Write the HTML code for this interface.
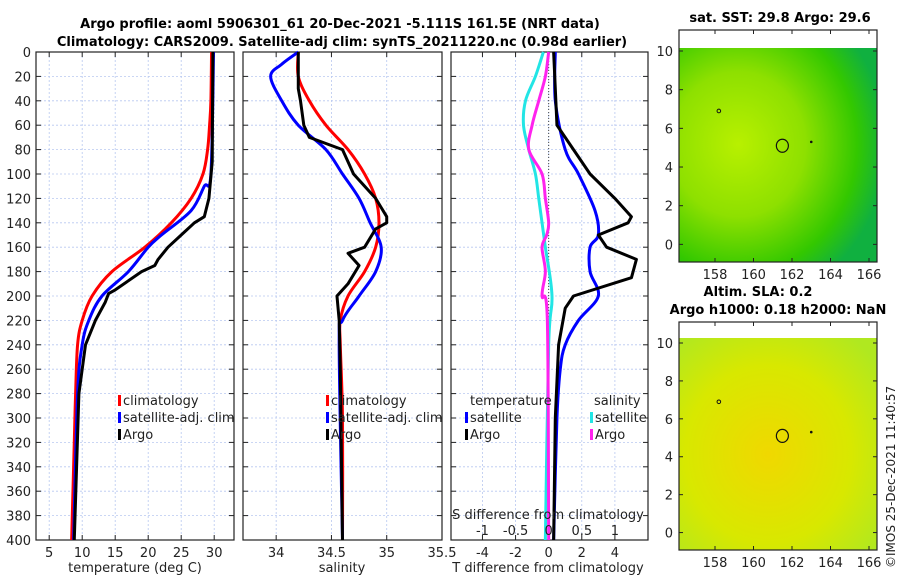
<!DOCTYPE html>
<html><head><meta charset="utf-8"><style>
body{margin:0;background:#fff;font-family:"Liberation Sans","DejaVu Sans",sans-serif}
svg text{font-family:"DejaVu Sans","Liberation Sans",sans-serif}
</style></head><body>
<svg id="c" width="900" height="580" viewBox="0 0 900 580">
<defs>
<radialGradient id="sst" cx="0.3" cy="0.45" r="0.75">
<stop offset="0" stop-color="#b8f000"/><stop offset="0.45" stop-color="#8ee000"/><stop offset="0.8" stop-color="#33c800"/><stop offset="1" stop-color="#10b040"/></radialGradient>
<radialGradient id="sla" cx="0.45" cy="0.55" r="0.7">
<stop offset="0" stop-color="#f0d800"/><stop offset="0.6" stop-color="#d8e800"/><stop offset="1" stop-color="#b0e820"/></radialGradient>
</defs>
</svg>
<script>
const depths=[0,20,40,60,80,100,120,140,160,180,200,220,240,260,280,300,320,340,360,380,400];
const tempClimD=[0,40,60,80,100,120,140,160,180,200,220,240,280,320,400];
const tempClimV=[29.6,29.5,29.3,29,28.3,26.5,23.5,19.5,14.5,11.5,10,9.3,9,8.8,8.4];
const tempSatD=[0,100,110,130,150,160,180,200,220,240,280,400];
const tempSatV=[29.9,29.5,28.5,26.5,22,20,17,13,11,10,9.3,8.7];
const tempArgoD=[0,90,120,135,140,150,160,170,175,180,195,198,205,220,240,280,400];
const tempArgoV=[29.8,29.7,29.2,28.5,27,25,23,21.5,21,19,15,14,13.5,12,10.5,9.5,8.8];
const salClimD=[0,20,40,60,80,100,120,140,160,180,200,220,240,300,400];
const salClimV=[34.2,34.2,34.3,34.45,34.65,34.8,34.9,34.93,34.9,34.8,34.65,34.58,34.58,34.6,34.6];
const salSatD=[0,10,20,40,60,80,100,120,140,160,180,200,220,240,400];
const salSatV=[34.2,34.05,33.95,34.05,34.2,34.45,34.6,34.75,34.85,34.95,34.9,34.75,34.6,34.57,34.6];
const salArgoD=[0,20,30,40,60,70,80,100,120,135,140,145,160,165,175,190,200,220,260,400];
const salArgoV=[34.2,34.2,34.2,34.22,34.25,34.3,34.6,34.7,34.9,35,35,34.9,34.8,34.65,34.75,34.65,34.55,34.57,34.58,34.6];
const dTSatD=[0,40,80,100,130,150,160,180,200,220,240,260,300,400];
const dTSatV=[0.4,0.4,1,1.8,2.8,3,2.5,2.5,3,1.8,1,0.7,0.5,0.3];
const dTArgoD=[0,60,80,100,120,135,140,150,160,170,175,185,200,210,240,300,400];
const dTArgoV=[0.3,0.5,1.5,2.5,4,5,4.8,3,3.5,5.3,5.2,5,1.5,1,0.6,0.4,0.3];
const dSSatD=[0,20,40,60,80,100,120,140,160,200,240,400];
const dSSatV=[-0.08,-0.2,-0.35,-0.38,-0.3,-0.2,-0.15,-0.1,-0.05,0.05,0,-0.05];
const dSArgoD=[0,20,40,60,80,100,120,140,150,160,180,200,220,400];
const dSArgoV=[0,-0.05,-0.15,-0.25,-0.3,-0.1,-0.05,0,-0.03,-0.1,-0.05,-0.1,-0.02,0];
const tTicks=[5,10,15,20,25,30];
const sTicks=[34,34.5,35,35.5];
const dTTicks=[-4,-2,0,2,4];
const dSTicks=[-1,-0.5,0,0.5,1];
const lonTicks=[158,160,162,164,166];
const latTicks=[0,2,4,6,8,10];

const svg=document.getElementById('c');
const NS='http://www.w3.org/2000/svg';
function mk(tag,attrs,parent){const e=document.createElementNS(NS,tag);for(const k in attrs)e.setAttribute(k,attrs[k]);(parent||svg).appendChild(e);return e;}
function txt(s,x,y,attrs,parent){const t=mk('text',Object.assign({x:x,y:y,'font-size':13,fill:'#222'},attrs||{}),parent);t.textContent=s;return t;}
const Y0=52,Y1=540;
const yD=d=>Y0+(d/400)*(Y1-Y0);

function panel(name,x0,x1,xmin,xmax,ticks,showY){
  const g=mk('g',{});
  
  
  const xs=v=>x0+(v-xmin)/(xmax-xmin)*(x1-x0);
  depths.forEach(d=>{mk('line',{x1:x0,x2:x1,y1:yD(d),y2:yD(d),stroke:'#b8c8f0','stroke-width':0.8,'stroke-dasharray':'2,2'},g);
    mk('line',{x1:x0,x2:x0+5,y1:yD(d),y2:yD(d),stroke:'#222'},g);mk('line',{x1:x1-5,x2:x1,y1:yD(d),y2:yD(d),stroke:'#222'},g);
    if(showY){const t=txt(String(d),x0-5,yD(d)+5,{'text-anchor':'end'},g);}});
  ticks.forEach(v=>{const X=xs(v);mk('line',{x1:X,x2:X,y1:Y0,y2:Y1,stroke:'#b8c8f0','stroke-width':0.8,'stroke-dasharray':'2,2'},g);
    mk('line',{x1:X,x2:X,y1:Y1,y2:Y1-5,stroke:'#222'},g);mk('line',{x1:X,x2:X,y1:Y0,y2:Y0+5,stroke:'#222'},g);
    const t=txt(String(v),X,Y1+17,{'text-anchor':'middle'},g);});
  mk('rect',{x:x0,y:Y0,width:x1-x0,height:Y1-Y0,fill:'none',stroke:'#222','stroke-width':1.2},g);
  return {g,xs};
}
function smoothPath(P){
  let d='M'+P[0][0]+','+P[0][1];
  for(let i=0;i<P.length-1;i++){
    const p0=P[i-1]||P[i],p1=P[i],p2=P[i+1],p3=P[i+2]||p2;
    const c1=[p1[0]+(p2[0]-p0[0])/6,p1[1]+(p2[1]-p0[1])/6];
    const c2=[p2[0]-(p3[0]-p1[0])/6,p2[1]-(p3[1]-p1[1])/6];
    d+=' C'+c1[0]+','+c1[1]+' '+c2[0]+','+c2[1]+' '+p2[0]+','+p2[1];
  }
  return d;
}
function line(p,D,V,color,w,name,scale,smooth){
  const P=D.map((d,i)=>[p.xs(V[i]*(scale||1)),yD(d)]);
  let e;
  if(smooth) e=mk('path',{d:smoothPath(P),fill:'none',stroke:color,'stroke-width':w,'stroke-linejoin':'round'},p.g);
  else e=mk('polyline',{points:P.map(q=>q.join(',')).join(' '),fill:'none',stroke:color,'stroke-width':w,'stroke-linejoin':'round'},p.g);
  
  
}
function legend(g,items,x,y){items.forEach((it,i)=>{mk('rect',{x:x,y:y+i*17-10,width:3,height:11,fill:it[1]},g);
  const t=txt(it[0],x+5,y+i*17,{},g);});}

const p1=panel('temperature-panel',36,234,3,33,tTicks,true);
line(p1,tempClimD,tempClimV,'#ff0000',3,'temp-climatology-line',1,true);
line(p1,tempSatD,tempSatV,'#0000ff',3,'temp-satellite-line',1,true);
line(p1,tempArgoD,tempArgoV,'#000',3,'temp-argo-line');
legend(p1.g,[['climatology','#f00'],['satellite-adj. clim','#00f'],['Argo','#000']],118,405);
txt('temperature (deg C)',135,572,{'text-anchor':'middle'},p1.g);

const p2=panel('salinity-panel',243,442,33.7,35.5,sTicks,false);
line(p2,salClimD,salClimV,'#ff0000',3,'sal-climatology-line',1,true);
line(p2,salSatD,salSatV,'#0000ff',3,'sal-satellite-line',1,true);
line(p2,salArgoD,salArgoV,'#000',3,'sal-argo-line');
legend(p2.g,[['climatology','#f00'],['satellite-adj. clim','#00f'],['Argo','#000']],326,405);
txt('salinity',342,572,{'text-anchor':'middle'},p2.g);

const p3=panel('difference-panel',451,648,-5.9,6,dTTicks,false);
mk('line',{x1:p3.xs(0),x2:p3.xs(0),y1:Y0,y2:Y1,stroke:'#444','stroke-dasharray':'1,2'},p3.g);
line(p3,dTSatD,dTSatV,'#0000ff',3,'dT-satellite-line',1,true);
line(p3,dTArgoD,dTArgoV,'#000',3,'dT-argo-line');
line(p3,dSSatD,dSSatV,'#22e5e5',3,'dS-satellite-line',4,true);
line(p3,dSArgoD,dSArgoV,'#ff22ee',3,'dS-argo-line',4,true);
txt('temperature',470,405,{},p3.g);
txt('salinity',594,405,{},p3.g);
legend(p3.g,[['satellite','#00f'],['Argo','#000']],465,422);
legend(p3.g,[['satellite','#22e5e5'],['Argo','#ff22ee']],590,422);
txt('S difference from climatology',548,519,{'text-anchor':'middle'},p3.g);
dSTicks.forEach(v=>{const X=p3.xs(v*4);const t=txt(String(v),X,535,{'text-anchor':'middle'},p3.g);});
txt('T difference from climatology',548,572,{'text-anchor':'middle'},p3.g);

const t1=txt('Argo profile: aoml 5906301_61 20-Dec-2021 -5.111S 161.5E (NRT data)',340,28,{'text-anchor':'middle','font-weight':'bold',fill:'#000'});

const t2=txt('Climatology: CARS2009. Satellite-adj clim: synTS_20211220.nc (0.98d earlier)',342,46,{'text-anchor':'middle','font-weight':'bold',fill:'#000'});


function map(name,top,bottom,fill,dataTop){
  const g=mk('g',{});
  
  
  const x0=679,x1=877;
  const lx=v=>715+(v-158)*19.25;
  const yl=v=>bottom-7-(v-(-0.55))*((bottom-7-(top+21))/(10.55));
  mk('rect',{x:x0,y:dataTop,width:x1-x0,height:bottom-dataTop,fill:fill},g);
  mk('ellipse',{cx:lx(161.5),cy:yl(5.1),rx:6,ry:6.5,fill:'none',stroke:'#111','stroke-width':1.2},g);
  mk('circle',{cx:lx(158.2),cy:yl(6.9),r:1.8,fill:'none',stroke:'#111'},g);
  mk('circle',{cx:lx(163),cy:yl(5.3),r:1.3,fill:'#111'},g);
  mk('rect',{x:x0,y:top,width:x1-x0,height:bottom-top,fill:'none',stroke:'#222','stroke-width':1.2},g);
  lonTicks.forEach(v=>{mk('line',{x1:lx(v),x2:lx(v),y1:bottom,y2:bottom-4,stroke:'#222'},g);mk('line',{x1:lx(v),x2:lx(v),y1:top,y2:top+4,stroke:'#222'},g);
    const t=txt(String(v),lx(v),bottom+17,{'text-anchor':'middle'},g);});
  latTicks.forEach(v=>{mk('line',{x1:x0,x2:x0+4,y1:yl(v),y2:yl(v),stroke:'#222'},g);mk('line',{x1:x1-4,x2:x1,y1:yl(v),y2:yl(v),stroke:'#222'},g);
    const t=txt(String(v),x0-6,yl(v)+5,{'text-anchor':'end'},g);});
}
map('sst-map',30,262,'url(#sst)',48);
map('sla-map',322,550,'url(#sla)',338);
txt('sat. SST: 29.8 Argo: 29.6',780,22,{'text-anchor':'middle','font-weight':'bold',fill:'#000'});
txt('Altim. SLA: 0.2',758,296,{'text-anchor':'middle','font-weight':'bold',fill:'#000'});
txt('Argo h1000: 0.18 h2000: NaN',778,314,{'text-anchor':'middle','font-weight':'bold',fill:'#000'});
const cr=txt('©IMOS 25-Dec-2021 11:40:57',0,0,{'font-size':12,transform:'translate(895,568) rotate(-90)'});

</script>
</body></html>
